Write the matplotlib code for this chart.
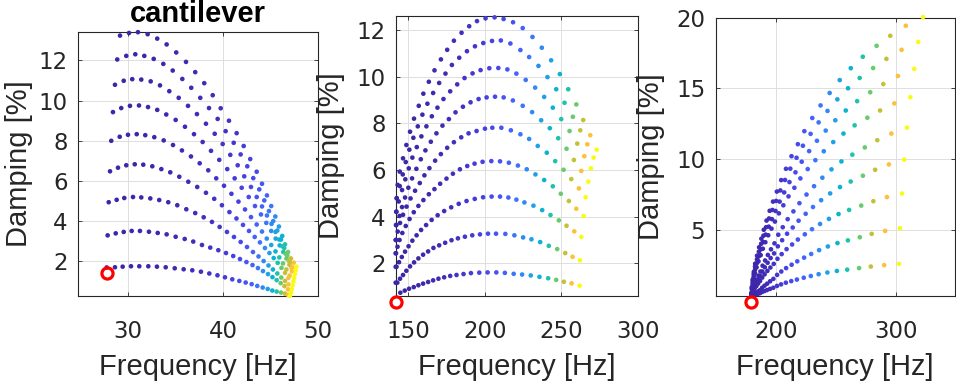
import matplotlib
matplotlib.use("Agg")
import matplotlib.pyplot as plt
from matplotlib.colors import LinearSegmentedColormap

plt.rcParams["font.family"] = ["Liberation Sans", "DejaVu Sans"]

# ---- panel 1: cantilever (freq [Hz], damping [%]) ----
p1_f1 = [27.76, 28.63, 29.44, 30.32, 31.19, 32.14, 33.05, 33.97, 34.92, 35.86, 36.77, 37.68, 38.56, 39.42, 40.21, 40.98, 41.72, 42.39, 43.02, 43.61, 44.18, 44.71, 45.19, 45.65, 46.11, 46.53, 46.84, 47.05]
p1_d1 = [1.69, 1.70, 1.73, 1.75, 1.75, 1.75, 1.73, 1.70, 1.65, 1.60, 1.55, 1.48, 1.39, 1.30, 1.20, 1.10, 1.02, 0.94, 0.86, 0.77, 0.69, 0.62, 0.54, 0.49, 0.44, 0.39, 0.32, 0.28]
p1_f2 = [27.86, 28.71, 29.55, 30.39, 31.26, 32.21, 33.13, 34.07, 35.02, 35.97, 36.87, 37.79, 38.66, 39.51, 40.32, 41.08, 41.79, 42.47, 43.11, 43.68, 44.21, 44.74, 45.21, 45.65, 46.07, 46.47, 46.84, 47.16]
p1_d2 = [3.29, 3.39, 3.46, 3.51, 3.51, 3.47, 3.41, 3.34, 3.22, 3.11, 2.98, 2.81, 2.68, 2.55, 2.41, 2.26, 2.11, 1.96, 1.81, 1.66, 1.51, 1.36, 1.21, 1.06, 0.91, 0.76, 0.60, 0.43]
p1_f3 = [27.97, 28.81, 29.61, 30.53, 31.40, 32.35, 33.29, 34.24, 35.19, 36.14, 37.08, 37.97, 38.84, 39.65, 40.42, 41.16, 41.86, 42.53, 43.16, 43.74, 44.28, 44.79, 45.26, 45.72, 46.14, 46.53, 46.89, 47.25]
p1_d3 = [4.94, 5.06, 5.15, 5.20, 5.18, 5.13, 5.05, 4.94, 4.79, 4.59, 4.40, 4.19, 3.96, 3.71, 3.46, 3.21, 2.96, 2.71, 2.46, 2.24, 2.01, 1.79, 1.59, 1.39, 1.19, 1.02, 0.85, 0.61]
p1_f4 = [28.11, 28.95, 29.82, 30.71, 31.61, 32.56, 33.51, 34.45, 35.40, 36.35, 37.29, 38.21, 39.08, 39.89, 40.68, 41.42, 42.11, 42.74, 43.34, 43.89, 44.42, 44.89, 45.34, 45.76, 46.16, 46.53, 46.89, 47.33]
p1_d4 = [6.48, 6.66, 6.78, 6.83, 6.81, 6.73, 6.59, 6.43, 6.21, 5.96, 5.70, 5.41, 5.11, 4.79, 4.45, 4.13, 3.81, 3.51, 3.21, 2.94, 2.66, 2.41, 2.16, 1.92, 1.67, 1.42, 1.17, 0.80]
p1_f5 = [28.24, 29.13, 30.0, 30.92, 31.82, 32.77, 33.76, 34.74, 35.68, 36.63, 37.55, 38.45, 39.29, 40.11, 40.89, 41.63, 42.32, 42.95, 43.55, 44.11, 44.61, 45.08, 45.53, 45.93, 46.32, 46.68, 47.02, 47.41]
p1_d5 = [8.0, 8.20, 8.30, 8.33, 8.28, 8.18, 8.02, 7.79, 7.52, 7.22, 6.88, 6.53, 6.13, 5.76, 5.36, 4.97, 4.58, 4.20, 3.83, 3.48, 3.13, 2.81, 2.49, 2.19, 1.89, 1.59, 1.29, 0.99]
p1_f6 = [28.42, 29.29, 30.21, 31.16, 32.11, 33.08, 34.03, 35.02, 36.0, 36.95, 37.86, 38.74, 39.61, 40.45, 41.23, 41.97, 42.71, 43.37, 44.0, 44.56, 45.08, 45.55, 45.97, 46.35, 46.68, 47.0, 47.26, 47.49]
p1_d6 = [9.43, 9.63, 9.74, 9.76, 9.68, 9.54, 9.31, 9.04, 8.70, 8.33, 7.94, 7.50, 7.05, 6.59, 6.13, 5.66, 5.20, 4.75, 4.33, 3.91, 3.51, 3.13, 2.79, 2.46, 2.14, 1.82, 1.50, 1.17]
p1_f7 = [28.63, 29.55, 30.45, 31.40, 32.39, 33.37, 34.35, 35.34, 36.32, 37.26, 38.21, 39.13, 39.97, 40.77, 41.55, 42.24, 42.95, 43.55, 44.11, 44.63, 45.11, 45.53, 45.93, 46.28, 46.63, 46.95, 47.21, 47.57]
p1_d7 = [10.79, 10.99, 11.07, 11.05, 10.96, 10.76, 10.47, 10.14, 9.74, 9.33, 8.85, 8.35, 7.84, 7.30, 6.78, 6.23, 5.70, 5.20, 4.73, 4.28, 3.86, 3.46, 3.08, 2.74, 2.36, 2.01, 1.67, 1.36]
p1_f8 = [28.87, 29.82, 30.77, 31.72, 32.71, 33.72, 34.71, 35.72, 36.66, 37.61, 38.53, 39.44, 40.28, 41.13, 41.86, 42.56, 43.19, 43.82, 44.35, 44.84, 45.29, 45.72, 46.11, 46.45, 46.77, 47.05, 47.30, 47.65]
p1_d8 = [12.05, 12.23, 12.31, 12.23, 12.08, 11.83, 11.50, 11.08, 10.64, 10.14, 9.63, 9.09, 8.48, 7.90, 7.32, 6.73, 6.14, 5.58, 5.03, 4.50, 4.0, 3.53, 3.08, 2.66, 2.29, 1.94, 1.70, 1.55]
p1_f9 = [29.16, 30.11, 31.05, 32.07, 33.08, 34.07, 35.08, 36.11, 37.08, 38.03, 38.92, 39.76, 40.63, 41.44, 42.18, 42.87, 43.55, 44.11, 44.63, 45.08, 45.51, 45.89, 46.24, 46.53, 46.85, 47.15, 47.45, 47.74]
p1_d9 = [13.24, 13.37, 13.41, 13.31, 13.09, 12.80, 12.40, 11.93, 11.42, 10.87, 10.27, 9.62, 9.0, 8.38, 7.74, 7.09, 6.46, 5.86, 5.28, 4.75, 4.23, 3.73, 3.26, 2.84, 2.46, 2.14, 1.93, 1.73]

# ---- panel 2 ----
p2_f1 = [144.75, 147.64, 150.46, 153.54, 156.56, 159.65, 162.93, 166.21, 169.69, 173.43, 177.37, 181.50, 186.09, 190.95, 196.39, 201.84, 207.55, 213.13, 218.90, 224.41, 230.06, 235.77, 241.47, 246.72, 251.71, 256.76, 262.01]
p2_d1 = [0.74, 0.83, 0.91, 0.98, 1.06, 1.13, 1.20, 1.27, 1.34, 1.40, 1.46, 1.50, 1.54, 1.58, 1.60, 1.61, 1.61, 1.59, 1.55, 1.52, 1.48, 1.42, 1.36, 1.29, 1.21, 1.14, 1.04]
p2_f2 = [142.78, 144.55, 146.52, 148.69, 151.12, 153.74, 156.56, 159.65, 162.93, 166.41, 170.15, 174.08, 178.22, 182.42, 187.01, 191.80, 196.85, 202.10, 207.35, 213.45, 219.36, 225.07, 230.52, 236.22, 241.87, 247.38, 252.63, 257.42, 262.21]
p2_d2 = [1.17, 1.34, 1.50, 1.68, 1.87, 2.04, 2.21, 2.37, 2.51, 2.66, 2.77, 2.88, 2.99, 3.07, 3.14, 3.20, 3.24, 3.27, 3.27, 3.26, 3.20, 3.11, 3.03, 2.91, 2.75, 2.61, 2.44, 2.28, 2.13]
p2_f3 = [142.26, 143.90, 145.73, 147.83, 150.13, 152.62, 155.38, 158.33, 161.61, 165.22, 169.16, 173.43, 178.02, 182.94, 188.06, 193.44, 198.89, 204.47, 209.98, 215.43, 220.67, 225.92, 231.83, 237.54, 242.98, 248.43, 253.48, 258.54, 263.13]
p2_d3 = [1.85, 2.05, 2.27, 2.50, 2.73, 2.97, 3.20, 3.43, 3.64, 3.86, 4.06, 4.24, 4.40, 4.55, 4.67, 4.76, 4.83, 4.86, 4.86, 4.82, 4.73, 4.61, 4.47, 4.28, 4.07, 3.84, 3.61, 3.37, 3.13]
p2_f4 = [141.93, 142.91, 144.23, 146.06, 148.29, 150.79, 153.54, 156.56, 159.84, 163.39, 167.06, 170.80, 174.94, 179.14, 183.73, 188.52, 193.31, 198.56, 204.27, 209.98, 215.75, 221.66, 227.43, 233.14, 238.85, 244.49, 249.74, 254.99, 259.85, 264.64]
p2_d4 = [2.43, 2.71, 3.0, 3.30, 3.60, 3.90, 4.19, 4.46, 4.71, 4.96, 5.18, 5.41, 5.63, 5.84, 6.03, 6.17, 6.27, 6.35, 6.38, 6.37, 6.31, 6.19, 6.03, 5.81, 5.57, 5.30, 4.98, 4.67, 4.34, 4.03]
p2_f5 = [141.93, 143.04, 144.55, 146.52, 148.81, 151.44, 154.40, 157.48, 160.50, 163.78, 167.52, 171.26, 175.40, 179.79, 184.58, 189.37, 194.62, 200.13, 204.92, 210.83, 217.06, 223.30, 229.01, 234.65, 240.56, 246.07, 251.52, 256.57, 261.55, 265.95]
p2_d5 = [3.0, 3.36, 3.73, 4.08, 4.43, 4.78, 5.11, 5.44, 5.77, 6.08, 6.40, 6.68, 6.95, 7.19, 7.40, 7.57, 7.67, 7.77, 7.81, 7.81, 7.70, 7.53, 7.33, 7.03, 6.74, 6.38, 6.01, 5.61, 5.21, 4.83]
p2_f6 = [142.13, 144.23, 145.87, 147.83, 150.0, 152.43, 155.25, 158.14, 161.16, 164.70, 168.37, 172.31, 176.51, 180.84, 185.70, 190.68, 195.93, 201.18, 206.70, 212.34, 218.38, 224.81, 230.98, 236.88, 242.52, 248.04, 253.48, 258.27, 263.13, 267.72]
p2_d6 = [3.64, 4.03, 4.41, 4.82, 5.24, 5.64, 6.05, 6.46, 6.84, 7.21, 7.57, 7.90, 8.18, 8.47, 8.71, 8.90, 9.04, 9.11, 9.14, 9.11, 8.98, 8.75, 8.48, 8.13, 7.79, 7.36, 6.91, 6.43, 5.96, 5.50]
p2_f7 = [142.13, 143.70, 145.87, 148.03, 150.26, 152.62, 155.51, 158.53, 161.81, 165.36, 169.03, 172.97, 177.36, 181.96, 186.75, 192.0, 197.25, 202.96, 208.86, 214.77, 220.67, 226.78, 232.94, 238.85, 244.49, 250.0, 255.45, 260.50, 265.10, 269.43]
p2_d7 = [4.21, 4.65, 5.14, 5.60, 6.07, 6.53, 6.98, 7.44, 7.87, 8.30, 8.67, 9.04, 9.37, 9.67, 9.94, 10.14, 10.28, 10.36, 10.37, 10.31, 10.13, 9.86, 9.53, 9.13, 8.67, 8.18, 7.67, 7.13, 6.59, 6.07]
p2_f8 = [142.39, 144.36, 146.33, 148.29, 150.66, 153.28, 156.17, 159.19, 162.47, 166.21, 170.15, 174.28, 178.48, 183.27, 188.32, 193.57, 199.02, 204.73, 210.50, 216.74, 223.30, 229.01, 235.11, 241.01, 246.72, 252.17, 257.62, 262.47, 267.07, 271.20]
p2_d8 = [4.79, 5.31, 5.81, 6.34, 6.87, 7.38, 7.87, 8.37, 8.84, 9.30, 9.73, 10.13, 10.50, 10.81, 11.09, 11.30, 11.44, 11.53, 11.55, 11.42, 11.14, 10.84, 10.46, 9.98, 9.46, 8.88, 8.28, 7.70, 7.10, 6.53]
p2_f9 = [141.7, 141.7, 141.7, 141.7, 141.9, 142.1, 142.4, 143.0, 144.4, 146.5, 148.7, 151.1, 153.7, 156.8, 159.8, 163.4, 167.1, 171.3, 175.4, 179.8, 184.8, 189.8, 194.9, 200.5, 206.4, 212.3, 218.5, 224.8, 231.2, 237.3, 243.4, 249.1, 254.6, 259.9, 264.4, 269.0, 273.2]
p2_d9 = [1.17, 1.85, 2.43, 3.0, 3.64, 4.21, 4.79, 5.36, 5.93, 6.5, 7.07, 7.64, 8.2, 8.75, 9.27, 9.78, 10.27, 10.74, 11.15, 11.54, 11.88, 12.16, 12.38, 12.5, 12.54, 12.47, 12.33, 12.08, 11.7, 11.24, 10.7, 10.11, 9.46, 8.81, 8.14, 7.49, 6.87]

# ---- panel 3 (listed from the outer yellow end inwards) ----
p3_f1 = [302.8, 290.4, 279.3, 269.5, 259.6, 251.0, 243.1, 235.8, 229.3, 223.4, 217.7, 213.0, 208.5, 204.5, 201.1, 198.0, 195.3, 192.8, 190.6, 188.6, 186.9, 185.3, 183.8, 182.5, 181.5, 180.7, 180.1, 179.7]
p3_d1 = [2.60, 2.51, 2.41, 2.30, 2.19, 2.10, 1.99, 1.87, 1.74, 1.62, 1.49, 1.38, 1.27, 1.15, 1.04, 0.91, 0.83, 0.75, 0.68, 0.61, 0.53, 0.49, 0.45, 0.42, 0.39, 0.37, 0.35, 0.34]
p3_f2 = [303.6, 291.2, 280.0, 270.1, 260.2, 251.5, 243.5, 236.2, 229.6, 223.7, 218.0, 213.3, 208.7, 204.7, 201.2, 198.1, 195.4, 192.9, 190.7, 188.7, 186.9, 185.3, 183.8, 182.5, 181.5, 180.7, 180.1, 179.7]
p3_d2 = [5.12, 4.93, 4.72, 4.48, 4.26, 4.07, 3.83, 3.57, 3.30, 3.04, 2.78, 2.54, 2.30, 2.06, 1.82, 1.54, 1.37, 1.20, 1.06, 0.91, 0.74, 0.65, 0.57, 0.50, 0.45, 0.40, 0.37, 0.35]
p3_f3 = [305.3, 292.7, 281.4, 271.3, 261.2, 252.4, 244.4, 237.0, 230.3, 224.3, 218.5, 213.7, 209.1, 205.0, 201.5, 198.4, 195.6, 193.1, 190.8, 188.8, 187.0, 185.4, 183.9, 182.5, 181.5, 180.8, 180.1, 179.8]
p3_d3 = [7.57, 7.32, 7.03, 6.72, 6.41, 6.12, 5.78, 5.42, 5.05, 4.69, 4.32, 3.97, 3.64, 3.29, 2.96, 2.60, 2.34, 2.10, 1.86, 1.63, 1.39, 1.21, 1.03, 0.88, 0.73, 0.60, 0.48, 0.38]
p3_f4 = [307.2, 294.4, 282.9, 272.7, 262.5, 253.6, 245.4, 237.9, 231.1, 225.0, 219.1, 214.2, 209.5, 205.4, 201.8, 198.7, 195.8, 193.3, 191.0, 188.9, 187.2, 185.5, 184.0, 182.6, 181.5, 180.8, 180.1, 179.8]
p3_d4 = [9.97, 9.63, 9.25, 8.83, 8.42, 8.03, 7.58, 7.10, 6.62, 6.14, 5.65, 5.17, 4.73, 4.27, 3.84, 3.34, 3.01, 2.68, 2.36, 2.06, 1.74, 1.50, 1.26, 1.06, 0.86, 0.69, 0.52, 0.40]
p3_f5 = [309.4, 296.4, 284.7, 274.3, 263.9, 254.8, 246.5, 238.9, 232.0, 225.7, 219.8, 214.8, 210.0, 205.9, 202.2, 199.0, 196.1, 193.5, 191.2, 189.1, 187.3, 185.6, 184.0, 182.6, 181.6, 180.8, 180.1, 179.8]
p3_d5 = [12.23, 11.81, 11.34, 10.83, 10.32, 9.84, 9.28, 8.69, 8.09, 7.50, 6.89, 6.31, 5.76, 5.19, 4.66, 4.05, 3.63, 3.23, 2.84, 2.47, 2.06, 1.77, 1.48, 1.23, 0.98, 0.77, 0.57, 0.41]
p3_f6 = [312.2, 298.9, 287.0, 276.4, 265.8, 256.5, 248.0, 240.1, 233.1, 226.7, 220.6, 215.6, 210.7, 206.4, 202.7, 199.4, 196.5, 193.8, 191.4, 189.3, 187.5, 185.7, 184.1, 182.7, 181.6, 180.8, 180.2, 179.8]
p3_d6 = [14.38, 13.94, 13.44, 12.93, 12.39, 11.81, 11.21, 10.56, 9.93, 9.30, 8.64, 7.98, 7.37, 6.74, 6.17, 5.59, 5.09, 4.62, 4.13, 3.67, 3.22, 2.78, 2.36, 1.95, 1.55, 1.17, 0.79, 0.48]
p3_f7 = [315.5, 301.9, 289.7, 278.8, 267.9, 258.4, 249.7, 241.7, 234.4, 227.9, 221.7, 216.5, 211.5, 207.1, 203.3, 199.9, 196.9, 194.2, 191.7, 189.6, 187.7, 185.9, 184.3, 182.8, 181.7, 180.9, 180.2, 179.8]
p3_d7 = [16.38, 15.88, 15.31, 14.73, 14.10, 13.44, 12.75, 12.02, 11.30, 10.57, 9.82, 9.07, 8.38, 7.65, 7.0, 6.34, 5.76, 5.23, 4.67, 4.14, 3.63, 3.13, 2.65, 2.18, 1.72, 1.29, 0.85, 0.50]
p3_f8 = [318.8, 304.9, 292.3, 281.2, 270.0, 260.3, 251.4, 243.2, 235.8, 229.1, 222.7, 217.4, 212.2, 207.8, 203.9, 200.4, 197.3, 194.5, 192.0, 189.8, 187.9, 186.0, 184.4, 182.8, 181.7, 180.9, 180.2, 179.8]
p3_d8 = [18.29, 17.73, 17.09, 16.44, 15.74, 15.01, 14.23, 13.41, 12.60, 11.79, 10.95, 10.10, 9.33, 8.53, 7.79, 7.05, 6.41, 5.81, 5.19, 4.59, 4.02, 3.46, 2.92, 2.40, 1.88, 1.40, 0.91, 0.52]
p3_f9 = [322.8, 308.4, 295.5, 284.1, 272.6, 262.6, 253.4, 245.0, 237.4, 230.5, 223.9, 218.5, 213.2, 208.6, 204.6, 201.0, 197.8, 195.0, 192.4, 190.1, 188.1, 186.2, 184.5, 182.9, 181.8, 180.9, 180.2, 179.8]
p3_d9 = [20.04, 19.43, 18.72, 18.01, 17.24, 16.43, 15.59, 14.68, 13.80, 12.91, 11.98, 11.06, 10.21, 9.32, 8.52, 7.71, 7.0, 6.35, 5.66, 5.01, 4.38, 3.77, 3.18, 2.61, 2.03, 1.50, 0.97, 0.54]

# colour value of each point, counted back from the last (yellow) point of a branch
color_from_end = [1.0, 0.87, 0.77, 0.67, 0.56, 0.46, 0.37, 0.30, 0.24, 0.19,
                  0.15, 0.12, 0.095, 0.075, 0.06, 0.047, 0.037, 0.029, 0.022, 0.017,
                  0.013, 0.01, 0.007, 0.005, 0.003, 0.002, 0.001, 0.0, 0.0, 0.0,
                  0.0, 0.0, 0.0, 0.0, 0.0, 0.0, 0.0, 0.0, 0.0, 0.0]

# reference (undamped) mode, red circle
ref_freq = [27.76, 141.9, 179.2]
ref_damp = [1.40, 0.35, -0.07]

PARULA = LinearSegmentedColormap.from_list("parula_like", [
    (0.00, (0.242, 0.150, 0.660)),
    (0.10, (0.279, 0.260, 0.904)),
    (0.20, (0.265, 0.403, 0.994)),
    (0.30, (0.177, 0.548, 0.954)),
    (0.40, (0.109, 0.667, 0.873)),
    (0.50, (0.005, 0.725, 0.780)),
    (0.60, (0.205, 0.781, 0.607)),
    (0.70, (0.500, 0.800, 0.350)),
    (0.80, (0.870, 0.740, 0.160)),
    (0.86, (0.990, 0.737, 0.243)),
    (0.93, (0.975, 0.840, 0.176)),
    (1.00, (0.977, 0.984, 0.081)),
])

DARK = (0.15, 0.15, 0.15)
TICK_FONT = ["DejaVu Sans"]


def branch_colors(n):
    c = color_from_end[:n]
    return c[::-1]


def draw_panel(ax, freqs, damps, ref):
    for f, d in zip(freqs, damps):
        ax.scatter(f, d, c=branch_colors(len(f)), cmap=PARULA, vmin=0, vmax=1,
                   s=11, linewidths=0, clip_on=False, zorder=3)
    ax.plot(ref[0], ref[1], "o", ms=8, mfc="none", mec="red", mew=2.3,
            clip_on=False, zorder=4)
    ax.grid(True, color="#dedede", linewidth=0.7, zorder=0)
    ax.set_axisbelow(True)
    for s in ax.spines.values():
        s.set_color(DARK)
        s.set_linewidth(0.8)
    ax.tick_params(direction="in", length=3, width=0.6, color=DARK,
                   labelcolor=DARK, labelsize=16.5, top=True, right=True)
    ax.tick_params(axis="x", pad=17)
    ax.tick_params(axis="y", pad=7.5)
    ax.set_xlabel("Frequency [Hz]", fontsize=21, color=DARK)
    ax.set_ylabel("Damping [%]", fontsize=21, color=DARK)


def finish_ticks(ax):
    for lab in ax.get_xticklabels() + ax.get_yticklabels():
        lab.set_family(TICK_FONT)


fig = plt.figure(figsize=(9.56, 3.83), dpi=100)

ax1 = fig.add_axes([0.0816, 0.2272, 0.2510, 0.6893])
draw_panel(ax1,
           [p1_f1, p1_f2, p1_f3, p1_f4, p1_f5, p1_f6, p1_f7, p1_f8, p1_f9],
           [p1_d1, p1_d2, p1_d3, p1_d4, p1_d5, p1_d6, p1_d7, p1_d8, p1_d9],
           (ref_freq[0], ref_damp[0]))
ax1.set_xlim(24.74, 50)
ax1.set_ylim(0.27, 13.42)
ax1.set_xticks([30, 40, 50])
ax1.set_yticks([2, 4, 6, 8, 10, 12])
ax1.set_title("cantilever", fontsize=21, fontweight="bold", pad=7.4)

ax2 = fig.add_axes([0.4142, 0.2272, 0.2528, 0.7311])
draw_panel(ax2,
           [p2_f1, p2_f2, p2_f3, p2_f4, p2_f5, p2_f6, p2_f7, p2_f8, p2_f9],
           [p2_d1, p2_d2, p2_d3, p2_d4, p2_d5, p2_d6, p2_d7, p2_d8, p2_d9],
           (ref_freq[1], ref_damp[1]))
ax2.set_xlim(141.9, 300)
ax2.set_ylim(0.6, 12.6)
ax2.set_xticks([150, 200, 250, 300])
ax2.set_yticks([2, 4, 6, 8, 10, 12])

ax3 = fig.add_axes([0.7486, 0.2272, 0.2503, 0.7266])
p3_f = [p3_f1, p3_f2, p3_f3, p3_f4, p3_f5, p3_f6, p3_f7, p3_f8, p3_f9]
p3_d = [p3_d1, p3_d2, p3_d3, p3_d4, p3_d5, p3_d6, p3_d7, p3_d8, p3_d9]
draw_panel(ax3, [f[::-1] for f in p3_f], [d[::-1] for d in p3_d],
           (ref_freq[2], ref_damp[2]))
ax3.set_xlim(150, 349.4)
ax3.set_ylim(0.33, 20.0)
ax3.set_xticks([200, 300])
ax3.set_yticks([5, 10, 15, 20])

for ax, xl, yl in [(ax1, -0.216, -0.1875), (ax2, -0.2036, -0.211), (ax3, -0.2048, -0.212)]:
    finish_ticks(ax)
    ax.xaxis.set_label_coords(0.5, xl)
    ax.xaxis.label.set_va("top")
    ax.yaxis.set_label_coords(yl, 0.5)

fig.savefig("out.png", dpi=100)
